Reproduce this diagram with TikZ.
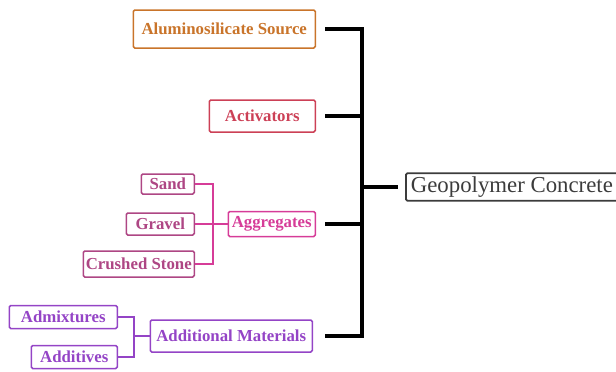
\documentclass[tikz,border=0pt]{standalone}
\usepackage{fontspec}
\setmainfont{Liberation Serif}
\usepackage{pgf,tikz}
\usetikzlibrary{calc, positioning}
\definecolor{alucol}{HTML}{C9742A}
\definecolor{actcol}{HTML}{CC4056}
\definecolor{aggcol}{HTML}{D63C98}
\definecolor{subcol}{HTML}{AE4684}
\definecolor{addcol}{HTML}{9444C6}
\definecolor{rootcol}{HTML}{3C3C3C}
\tikzset{
	item/.style={draw=#1, text=#1, line width=1.5pt, rounded corners=1.5pt, inner sep=0pt,
		font=\fontsize{16.8}{19}\selectfont\bfseries, anchor=east},
	trunk/.style={line width=3.2pt, black},
	twig/.style={line width=2.4pt, #1}
}

\begin{document}
\begin{tikzpicture}[x=1pt, y=-1pt]
\useasboundingbox (0,0) rectangle (616,372);

\node[item=alucol, minimum width=182, minimum height=38] (alu) at (316,29) {Aluminosilicate Source};
\node[item=actcol, minimum width=106, minimum height=32] (act) at (316,116) {Activators};
\node[item=aggcol, minimum width=87, minimum height=25] (agg) at (316,224) {Aggregates};
\node[item=addcol, minimum width=162, minimum height=32] (addm) at (313,336) {Additional Materials};

\node[item=subcol, minimum width=53, minimum height=20] (sand) at (195,184) {Sand};
\node[item=subcol, minimum width=68, minimum height=22] (gravel) at (195,224) {Gravel};
\node[item=subcol, minimum width=111, minimum height=26] (stone) at (195,264) {Crushed Stone};

\node[item=addcol, minimum width=108, minimum height=23] (admix) at (118,317) {Admixtures};
\node[item=addcol, minimum width=86, minimum height=23] (additive) at (118,357) {Additives};

\node[draw=rootcol, text=rootcol, line width=1.8pt, rounded corners=1.5pt, inner xsep=5pt,
	minimum height=26, anchor=west, font=\fontsize{22.8}{25}\selectfont] (root) at (405,187) {Geopolymer Concrete};

\coordinate (spine) at (362,187);
\coordinate (aggjoin) at (213,224);
\coordinate (addjoin) at (134,336);

\draw[trunk] ([xshift=9pt]alu.east) -- (alu.east -| spine) -- (addm.east -| spine) -- ([xshift=12pt]addm.east);
\foreach \n in {act, agg}
	\draw[trunk] ([xshift=9pt]\n.east) -- (\n.east -| spine);
\draw[trunk, shorten >=7pt] (spine) -- (root.west);

\draw[twig=aggcol] (sand.east) -- (sand.east -| aggjoin) -- (stone.east -| aggjoin) -- (stone.east);
\draw[twig=aggcol] (gravel.east) -- (agg.west);

\draw[twig=addcol] (admix.east) -- (admix.east -| addjoin) -- (additive.east -| addjoin) -- (additive.east);
\draw[twig=addcol] (addjoin) -- (addm.west);

\end{tikzpicture}
\end{document}
